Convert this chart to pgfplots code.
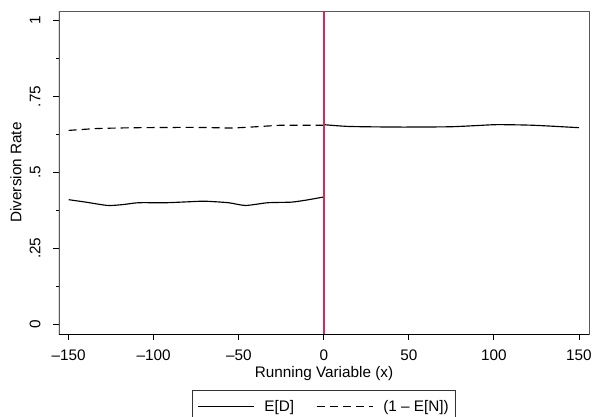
\documentclass[border=0pt]{standalone}
\usepackage{fontspec}
\setmainfont{Liberation Sans}
\usepackage{pgfplots}
\pgfplotsset{compat=1.18}
\begin{document}
\begin{tikzpicture}[font=\fontsize{15.3bp}{18bp}\selectfont]
\begin{axis}[
  name=ax,
  scale only axis,
  width=530bp, height=323bp,
  xmin=-155.7, xmax=155.9,
  ymin=-0.032, ymax=1.031,
  axis line style={black!65, line width=0.9bp},
  tick align=outside,
  tick style={black, line width=0.9bp},
  major tick length=6bp,
  minor tick length=3bp,
  xtick={-150,-100,-50,0,50,100,150},
  xticklabels={–150,–100,–50,0,50,100,150},
  ytick={0,0.25,0.5,0.75,1},
  yticklabels={0,.25,.5,.75,1},
  minor ytick={0.125,0.375,0.625,0.875},
  xtick pos=bottom, ytick pos=left,
  yticklabel style={rotate=90, anchor=south, yshift=9bp},
  xticklabel style={anchor=north, yshift=-6bp},
  xlabel={Running Variable (x)},
  ylabel={Diversion Rate},
  xlabel style={at={(axis description cs:0.5,0)}, anchor=north, yshift=-29bp},
  ylabel style={at={(axis description cs:0,0.5)}, anchor=south, rotate=0, yshift=34bp},
  legend columns=2,
  legend style={at={(axis description cs:0.5,-0.174)}, anchor=north, draw=black!80, line width=0.8bp,
    font=\fontsize{15.3bp}{18bp}\selectfont, inner ysep=7.5bp, inner xsep=5bp},
  legend cell align=left,
  /tikz/every odd column/.append style={column sep=8bp},
  /tikz/every even column/.append style={column sep=20bp},
  legend image code/.code={\draw[#1] (0bp,0bp) -- (56bp,0bp);},
]
\addplot[black, line width=1.15bp, smooth, tension=0.4] coordinates {
(-150,0.410) (-140,0.402) (-127,0.391) (-118,0.394) (-109,0.400) (-93,0.400)
(-80,0.403) (-70,0.405) (-56,0.400) (-46,0.391) (-33,0.400) (-19,0.402)
(-10,0.409) (0,0.419)};
\addlegendentry{E[D]}
\addplot[black, line width=1.15bp, dash pattern=on 8bp off 5bp, smooth, tension=0.4] coordinates {
(-150,0.638) (-134,0.644) (-120,0.646) (-109,0.647) (-80,0.648) (-65,0.647)
(-54,0.646) (-40,0.650) (-25,0.655) (-10,0.655) (0,0.655)};
\addlegendentry{(1 – E[N])}
\addplot[black, line width=1.15bp, smooth, tension=0.4, forget plot] coordinates {
(0,0.657) (15,0.651) (45,0.649) (74,0.650) (90,0.654) (102,0.657) (123,0.655) (150,0.647)};
\addplot[draw={rgb,255:red,215;green,40;blue,90}, line width=1.4bp, forget plot] coordinates {(0,-0.032) (0,1.031)};
\draw[black, line width=1bp] (rel axis cs:0,1) -- (rel axis cs:0,0) -- (rel axis cs:1,0);
\end{axis}
\pgfresetboundingbox
\path ([xshift=-59bp,yshift=-83bp]ax.south west) rectangle ([xshift=4bp,yshift=11bp]ax.north east);
\end{tikzpicture}
\end{document}
